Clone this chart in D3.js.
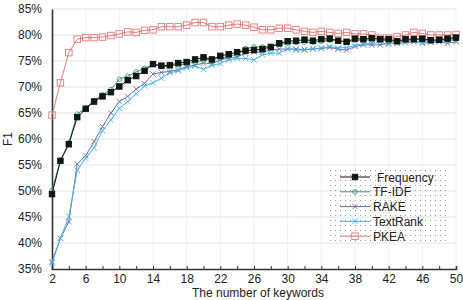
<!DOCTYPE html>
<html>
<head>
<meta charset="utf-8">
<script src="https://cdn.jsdelivr.net/npm/d3@7"></script>
<style>
  body { margin: 0; background: #fff; }
  svg { font-family: "Liberation Sans", Arial, sans-serif; }
</style>
</head>
<body>
<script>
// number of keywords
let keywords = [2,3,4,5,6,7,8,9,10,11,12,13,14,15,16,17,18,19,20,21,22,23,24,25,26,
  27,28,29,30,31,32,33,34,35,36,37,38,39,40,41,42,43,44,45,46,47,48,49,50];

let frequency = [49.4,55.8,59.0,64.2,65.8,67.2,68.2,69.0,70.1,71.3,72.1,73.1,74.4,74.1,74.2,74.6,74.8,75.3,75.7,75.3,
  76.0,76.3,76.7,77.0,77.1,77.3,77.7,78.4,78.8,78.9,79.1,78.9,79.2,79.3,78.9,78.7,79.3,79.2,79.4,79.2,
  79.2,78.8,79.2,79.2,79.3,79.0,79.1,79.3,79.5];
let tfidf = [50.1,55.9,59.3,64.8,66.0,67.4,68.5,69.5,71.5,72.1,72.9,73.6,74.4,73.9,74.0,74.2,74.5,74.8,75.2,75.3,
  75.5,75.9,76.3,77.4,77.7,77.7,77.8,78.2,78.4,78.5,78.6,78.6,78.8,79.0,78.9,78.6,79.0,79.0,79.1,79.0,
  78.9,78.7,79.0,79.1,79.1,78.9,79.0,79.2,79.3];
let rake = [36.4,40.9,44.1,55.2,56.8,59.5,62.4,65.0,67.2,68.2,69.6,70.7,72.5,72.8,73.0,73.3,73.9,74.2,74.6,74.5,
  75.2,75.6,75.8,76.5,76.7,76.7,77.1,77.3,77.3,77.3,77.2,77.3,77.4,77.6,77.3,77.1,77.8,78.1,78.1,78.1,
  78.4,78.4,78.5,78.7,78.6,78.6,78.7,78.4,78.7];
let textrank = [36.1,40.9,45.1,54.0,56.3,58.3,61.6,63.7,65.9,67.2,68.7,70.2,70.8,71.7,72.7,73.1,73.7,74.0,73.4,74.2,
  74.5,75.2,75.5,75.5,75.2,76.2,76.5,76.5,77.4,77.1,77.1,77.4,77.5,77.8,77.5,77.6,78.0,78.3,78.4,78.6,
  78.2,78.7,78.9,78.8,78.4,78.6,78.8,79.0,79.0];
let pkea = [64.6,70.8,76.6,79.2,79.5,79.5,79.6,79.9,80.2,80.6,80.5,80.9,81.0,81.6,81.6,81.6,81.9,82.4,82.4,81.6,
  81.6,81.9,82.1,81.9,81.5,81.0,81.0,81.3,81.3,81.0,80.7,80.5,80.7,80.5,80.3,80.5,80.2,80.2,80.0,79.4,
  79.4,79.7,80.0,80.5,80.3,80.0,80.0,80.0,80.1];

let xTicks = [2,6,10,14,18,22,26,30,34,38,42,46,50];
let yTicks = [35,40,45,50,55,60,65,70,75,80,85];

let series = [
  {name:"PKEA", values:pkea, color:"#e07b7b", marker:"square", fill:"none", size:6.5},
  {name:"RAKE", values:rake, color:"#6f6d9e", marker:"cross", size:5.5},
  {name:"TextRank", values:textrank, color:"#45b4e6", marker:"cross", size:5.5},
  {name:"TF-IDF", values:tfidf, color:"#3d9a6e", marker:"circle", fill:"none", size:4.5},
  {name:"Frequency", values:frequency, color:"#111", marker:"square", fill:"#0a1a12", size:5.5}
];
let legendOrder = ["Frequency","TF-IDF","RAKE","TextRank","PKEA"];

let W = 463, H = 300;
let svg = d3.select("body").append("svg").attr("width",W).attr("height",H);

let x = d3.scaleLinear().domain([2,50]).range([52,456]);
let y = d3.scaleLinear().domain([35,85]).range([269,9]);

// grid
svg.append("g").selectAll("line").data(yTicks.slice(1)).enter().append("line")
  .attr("x1",x(2)).attr("x2",x(50)).attr("y1",d=>y(d)).attr("y2",d=>y(d))
  .attr("stroke","#e4e4e4").attr("stroke-width",1);
svg.append("g").selectAll("line").data(xTicks.slice(1)).enter().append("line")
  .attr("x1",d=>x(d)).attr("x2",d=>x(d)).attr("y1",y(35)).attr("y2",y(85))
  .attr("stroke","#f0f0f0").attr("stroke-width",1);

// axes
let xAxis = d3.axisBottom(x).tickValues(d3.range(2,51,2)).tickSize(-3)
  .tickFormat(d => xTicks.includes(d) ? d : "");
let gx = svg.append("g").attr("transform",`translate(0,${y(35)})`).call(xAxis);
gx.select(".domain").attr("stroke","#333").attr("stroke-width",1.6);
gx.selectAll(".tick line").attr("stroke","#333");
gx.selectAll("text").attr("font-size","12px").attr("fill","#222").attr("dy","0.9em")
  .attr("font-family","'Liberation Sans', Arial, sans-serif");

let yAxis = d3.axisLeft(y).tickValues(yTicks).tickSize(0).tickPadding(10)
  .tickFormat(d => d + "%");
let gy = svg.append("g").attr("transform",`translate(${x(2)},0)`).call(yAxis);
gy.select(".domain").attr("stroke","#333").attr("stroke-width",1.6);
gy.selectAll("text").attr("font-size","12px").attr("fill","#222")
  .attr("font-family","'Liberation Sans', Arial, sans-serif");

// axis titles
svg.append("text").attr("x",258).attr("y",296.5).attr("text-anchor","middle")
  .attr("font-size","12px").attr("fill","#222").text("The number of keywords");
svg.append("text").attr("transform","translate(12,139) rotate(-90)").attr("text-anchor","middle")
  .attr("font-size","12px").attr("fill","#222").text("F1");

function drawMarker(g, m, cx, cy, s) {
  if (m.marker === "square") {
    g.append("rect").attr("x",cx-s/2).attr("y",cy-s/2).attr("width",s).attr("height",s)
      .attr("fill",m.fill).attr("stroke",m.color).attr("stroke-width",0.9);
  } else if (m.marker === "circle") {
    g.append("circle").attr("cx",cx).attr("cy",cy).attr("r",s/2)
      .attr("fill","none").attr("stroke",m.color).attr("stroke-width",0.9);
  } else {
    let h = s/2;
    g.append("path").attr("d",`M${cx-h},${cy-h}L${cx+h},${cy+h}M${cx-h},${cy+h}L${cx+h},${cy-h}`)
      .attr("stroke",m.color).attr("stroke-width",0.9).attr("fill","none");
  }
}

let line = d3.line().x((d,i)=>x(keywords[i])).y(d=>y(d));
series.forEach(s => {
  let g = svg.append("g");
  g.append("path").datum(s.values).attr("d",line)
    .attr("fill","none").attr("stroke",s.color).attr("stroke-width",1);
  s.values.forEach((v,i) => drawMarker(g, s, x(keywords[i]), y(v), s.size));
});

// legend
let defs = svg.append("defs");
let pat = defs.append("pattern").attr("id","dots").attr("width",5).attr("height",5)
  .attr("patternUnits","userSpaceOnUse");
pat.append("rect").attr("width",1).attr("height",1).attr("fill","#999");

let lg = svg.append("g");
lg.append("rect").attr("x",329).attr("y",169).attr("width",120).attr("height",74)
  .attr("fill","url(#dots)");
legendOrder.forEach((name,i) => {
  let s = series.find(d => d.name === name);
  let ly = 177 + i*14.8;
  lg.append("line").attr("x1",340).attr("x2",370).attr("y1",ly).attr("y2",ly)
    .attr("stroke",s.color).attr("stroke-width",1);
  drawMarker(lg, s, 355, ly, s.size);
  lg.append("text").attr("x",name === "Frequency" ? 377 : 373).attr("y",ly+4.5)
    .attr("font-size","12px").attr("fill","#222").text(name);
});
</script>
</body>
</html>
